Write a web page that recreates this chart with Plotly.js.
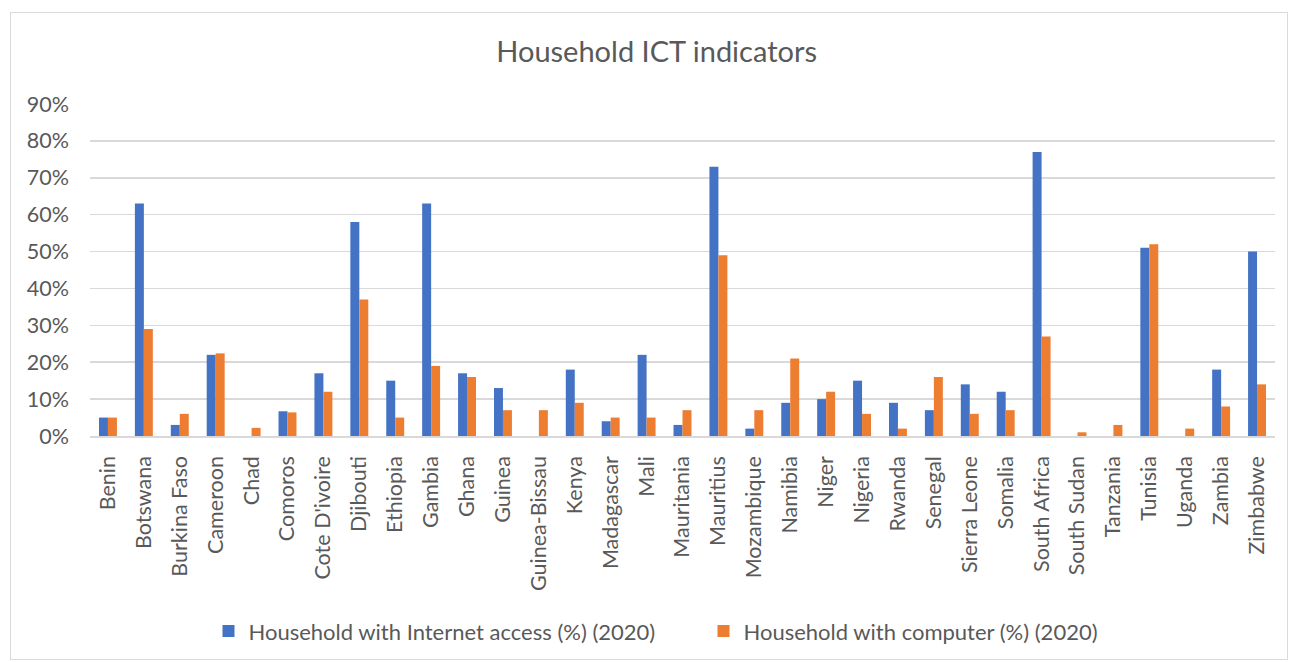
<!DOCTYPE html>
<html>
<head>
<meta charset="utf-8">
<script src="https://cdn.plot.ly/plotly-3.0.1.min.js"></script>
<style>
  html, body { margin: 0; padding: 0; background: #fff; }
  #wrap { position: relative; width: 1290px; height: 662px; }
  #chart { width: 1290px; height: 662px; }
  #frame { position: absolute; left: 10px; top: 12px; width: 1278px; height: 648px;
           border: 1px solid #d9d9d9; box-sizing: border-box; pointer-events: none; }
</style>
</head>
<body>
<div id="wrap">
  <div id="chart"></div>
  <div id="frame"></div>
</div>
<script>
const countries = ["Benin","Botswana","Burkina Faso","Cameroon","Chad","Comoros","Cote D'ivoire","Djibouti","Ethiopia","Gambia","Ghana","Guinea","Guinea-Bissau","Kenya","Madagascar","Mali","Mauritania","Mauritius","Mozambique","Namibia","Niger","Nigeria","Rwanda","Senegal","Sierra Leone","Somalia","South Africa","South Sudan","Tanzania","Tunisia","Uganda","Zambia","Zimbabwe"];
const internetAccess = [0.05,0.63,0.03,0.22,null,0.067,0.17,0.58,0.15,0.63,0.17,0.13,null,0.18,0.04,0.22,0.03,0.73,0.02,0.09,0.10,0.15,0.09,0.07,0.14,0.12,0.77,null,null,0.51,null,0.18,0.50];
const computer = [0.05,0.29,0.06,0.224,0.022,0.064,0.12,0.37,0.05,0.19,0.16,0.07,0.07,0.09,0.05,0.05,0.07,0.49,0.07,0.21,0.12,0.06,0.02,0.16,0.06,0.07,0.27,0.01,0.03,0.52,0.02,0.08,0.14];
const seriesNames = ["Household with Internet access (%) (2020)","Household with computer (%) (2020)"];
const yTicks = [0,0.1,0.2,0.3,0.4,0.5,0.6,0.7,0.8,0.9];
const yTickText = ["0%","10%","20%","30%","40%","50%","60%","70%","80%","90%"];

const FONT = "Lato, 'Open Sans', sans-serif";
const TXT = "#595959";

const traces = [
  {type:"bar", name:seriesNames[0], x:countries, y:internetAccess, marker:{color:"#4472C4", line:{width:0}}},
  {type:"bar", name:seriesNames[1], x:countries, y:computer, marker:{color:"#ED7D31", line:{width:0}}}
];

const layout = {
  width:1290, height:662,
  margin:{l:90, r:15, t:104, b:225},
  paper_bgcolor:"#fff", plot_bgcolor:"#fff",
  font:{family:FONT, color:TXT, size:21.5},
  title:{text:"Household ICT indicators", font:{family:FONT, size:29, color:TXT}, x:0.509, xanchor:"center", y:0.921, yanchor:"middle", yref:"container", xref:"container"},
  barmode:"group", bargap:0.5, bargroupgap:0,
  showlegend:true,
  legend:{orientation:"h", x:0.1, xanchor:"left", y:-0.583, yanchor:"middle", font:{family:FONT, size:22, color:TXT}, itemwidth:30, entrywidth:450, entrywidthmode:"pixels", traceorder:"normal"},
  xaxis:{type:"category", tickangle:-90, ticks:"", ticklabelstandoff:10, showgrid:false, showline:true, linecolor:"#d9d9d9", linewidth:1.5, tickfont:{family:FONT, size:21.5, color:TXT}, fixedrange:true},
  yaxis:{range:[0,0.9], tickvals:yTicks, ticktext:yTickText, showgrid:true, gridcolor:"#d9d9d9", gridwidth:1.5, zeroline:false, showline:false, ticks:"", ticklabelstandoff:20, tickfont:{family:FONT, size:21.5, color:TXT}, fixedrange:true}
};

Plotly.newPlot("chart", traces, layout, {displayModeBar:false, staticPlot:true});
</script>
</body>
</html>
